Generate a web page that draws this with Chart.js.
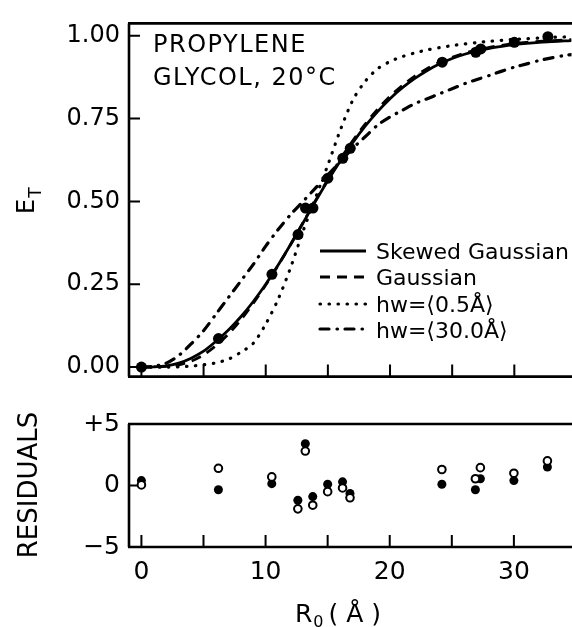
<!DOCTYPE html>
<html><head><meta charset="utf-8">
<script src="https://cdn.jsdelivr.net/npm/chart.js@4/dist/chart.umd.min.js"></script>
<style>
html,body{margin:0;padding:0;background:#fff;overflow:hidden}
#wrap{position:relative;width:572px;height:627px;background:#fff;overflow:hidden}
#c1{position:absolute;left:0;top:0}
#c2{position:absolute;left:0;top:400px}
</style></head><body>
<div id="wrap"><canvas id="c1" width="577" height="400"></canvas><canvas id="c2" width="577" height="227"></canvas></div>
<script>
// ---- data ----
const r0Data = [0, 6.2, 10.5, 12.6, 13.2, 13.8, 15.0, 16.2, 16.8, 24.2, 26.9, 27.3, 30.0, 32.7];
const etData = [0.00, 0.086, 0.28, 0.40, 0.48, 0.48, 0.57, 0.63, 0.66, 0.92, 0.95, 0.96, 0.98, 0.997];
const residFilled = [0.4, -0.35, 0.15, -1.2, 3.4, -0.9, 0.1, 0.3, -0.65, 0.1, -0.35, 0.55, 0.4, 1.5];
const residOpen = [0.05, 1.4, 0.7, -1.9, 2.8, -1.6, -0.5, -0.2, -1.0, 1.3, 0.55, 1.45, 1.0, 2.0];

const curveR = [0,1,2,3,4,5,6,7,8,9,10,11,12,13,14,15,16,17,18,19,20,21,22,23,24,25,26,27,28,29,30,31,32,33,34,34.6];
const skewedGaussian = [0.000,0.001,0.004,0.012,0.027,0.048,0.078,0.112,0.152,0.198,0.250,0.308,0.370,0.435,0.500,0.563,0.622,0.677,0.727,0.771,0.810,0.843,0.871,0.895,0.915,0.931,0.944,0.954,0.962,0.968,0.973,0.977,0.980,0.982,0.984,0.985];
const gaussian = [0.000,0.000,0.002,0.007,0.018,0.037,0.065,0.100,0.143,0.193,0.248,0.307,0.370,0.436,0.502,0.566,0.627,0.683,0.733,0.778,0.817,0.850,0.878,0.901,0.920,0.935,0.947,0.957,0.965,0.971,0.976,0.980,0.983,0.985,0.987,0.988];
const hw05 = [0.000,0.000,0.000,0.001,0.003,0.007,0.013,0.024,0.045,0.072,0.130,0.205,0.300,0.410,0.510,0.610,0.715,0.805,0.862,0.900,0.922,0.937,0.948,0.957,0.964,0.970,0.975,0.979,0.983,0.986,0.989,0.991,0.993,0.995,0.996,0.997];
const hw30 = [0.000,0.003,0.012,0.035,0.070,0.110,0.160,0.210,0.260,0.310,0.365,0.415,0.460,0.500,0.540,0.580,0.620,0.660,0.695,0.730,0.755,0.775,0.795,0.810,0.825,0.840,0.855,0.868,0.880,0.893,0.905,0.915,0.925,0.933,0.940,0.943];

const etTicks = [0, 0.25, 0.5, 0.75, 1.0];
const residTicks = [-5, 0, 5];
const xTicks = [0, 5, 10, 15, 20, 25, 30];
const xLabelTicks = [0, 10, 20, 30];
const legendLabels = ['Skewed Gaussian', 'Gaussian', 'hw=\u27E80.5\u00C5\u27E9', 'hw=\u27E830.0\u00C5\u27E9'];

// ---- styles ----
const FONT = 'DejaVu Sans';
const styles = [
  {dash: [], cap: 'butt', width: 2.8},
  {dash: [10, 7], cap: 'butt', width: 2.8},
  {dash: [0.5, 8.5], cap: 'round', width: 3.2},
  {dash: [9, 8, 0.5, 7.5], cap: 'round', width: 3.2}
];
const pts = (xs, ys) => xs.map((x, i) => ({x, y: ys[i]}));
const curves = [skewedGaussian, gaussian, hw05, hw30];

function frame(ctx, a, drawTop) {
  ctx.save();
  ctx.strokeStyle = '#000';
  ctx.lineWidth = 2.6;
  ctx.beginPath();
  ctx.moveTo(a.left, a.top); ctx.lineTo(a.left, a.bottom);
  ctx.moveTo(a.left - 1, a.bottom); ctx.lineTo(a.right + 10, a.bottom);
  if (drawTop) { ctx.moveTo(a.left - 1, a.top); ctx.lineTo(a.right + 10, a.top); }
  ctx.stroke();
  ctx.restore();
}
function xTickMarks(chart) {
  const ctx = chart.ctx, a = chart.chartArea, sx = chart.scales.x;
  ctx.save(); ctx.strokeStyle = '#000'; ctx.lineWidth = 2;
  ctx.beginPath();
  xTicks.forEach(v => { const p = sx.getPixelForValue(v); ctx.moveTo(p, a.bottom); ctx.lineTo(p, a.bottom - 12); });
  ctx.stroke(); ctx.restore();
}
function yTickMarks(chart, vals) {
  const ctx = chart.ctx, a = chart.chartArea, sy = chart.scales.y;
  ctx.save(); ctx.strokeStyle = '#000'; ctx.lineWidth = 2;
  ctx.beginPath();
  vals.forEach(v => { const p = sy.getPixelForValue(v); ctx.moveTo(a.left, p); ctx.lineTo(a.left + 11, p); });
  ctx.stroke(); ctx.restore();
}

const topPlugin = {
  id: 'topDeco',
  beforeDatasetsDraw(chart) {
    frame(chart.ctx, chart.chartArea, true);
    xTickMarks(chart);
    yTickMarks(chart, etTicks);
  },
  afterDraw(chart) {
    const ctx = chart.ctx;
    ctx.save();
    ctx.fillStyle = '#000';
    ctx.textAlign = 'left'; ctx.textBaseline = 'alphabetic';
    ctx.font = '24px "' + FONT + '"';
    ctx.letterSpacing = '1.5px';
    ctx.fillText('PROPYLENE', 153, 52);
    ctx.fillText('GLYCOL, 20\u00B0C', 153, 85);
    ctx.letterSpacing = '0px';
    // legend
    const lineY = [251, 277, 304, 329];
    const textY = [259, 285, 312, 338];
    ctx.font = '22px "' + FONT + '"';
    legendLabels.forEach((lab, i) => {
      const s = styles[i];
      ctx.save();
      ctx.strokeStyle = '#000'; ctx.lineWidth = s.width; ctx.lineCap = s.cap;
      ctx.setLineDash(s.dash);
      ctx.beginPath(); ctx.moveTo(320, lineY[i]); ctx.lineTo(366, lineY[i]); ctx.stroke();
      ctx.restore();
      ctx.fillText(lab, 376, textY[i]);
    });
    // E_T axis title
    ctx.save();
    ctx.translate(34, 214);
    ctx.rotate(-Math.PI / 2);
    ctx.font = '24px "' + FONT + '"';
    ctx.fillText('E', 0, 0);
    const w = ctx.measureText('E').width;
    ctx.font = '17px "' + FONT + '"';
    ctx.fillText('T', w + 1, 7);
    ctx.restore();
    ctx.restore();
  }
};

const botPlugin = {
  id: 'botDeco',
  beforeDatasetsDraw(chart) {
    frame(chart.ctx, chart.chartArea, true);
    xTickMarks(chart);
    yTickMarks(chart, [0]);
  },
  afterDraw(chart) {
    const ctx = chart.ctx;
    ctx.save();
    ctx.fillStyle = '#000';
    ctx.textBaseline = 'alphabetic';
    // RESIDUALS
    ctx.save();
    ctx.translate(37, 85);
    ctx.rotate(-Math.PI / 2);
    ctx.textAlign = 'center';
    ctx.font = '26px "' + FONT + '"';
    ctx.fillText('RESIDUALS', 0, 0);
    ctx.restore();
    // R0 (Å)
    ctx.textAlign = 'left';
    ctx.font = '25px "' + FONT + '"';
    let x = 295;
    ctx.fillText('R', x, 222);
    x += ctx.measureText('R').width;
    ctx.font = '16px "' + FONT + '"';
    ctx.fillText('0', x + 1, 227);
    x += ctx.measureText('0').width + 6;
    ctx.font = '25px "' + FONT + '"';
    ctx.fillText('( \u00C5 )', x, 222);
    ctx.restore();
  }
};

const lineDatasets = curves.map((c, i) => ({
  data: pts(curveR, c), showLine: true, pointRadius: 0, borderColor: '#000',
  borderWidth: styles[i].width, borderDash: styles[i].dash, borderCapStyle: styles[i].cap,
  tension: 0.3, fill: false, order: 2
}));

new Chart(document.getElementById('c1'), {
  type: 'scatter',
  data: { datasets: [
    ...lineDatasets,
    { data: pts(r0Data, etData), pointRadius: 5.5, pointBackgroundColor: '#000', pointBorderWidth: 0, showLine: false, order: 1 }
  ]},
  options: {
    responsive: false, animation: false, devicePixelRatio: 1,
    layout: { padding: { top: 14, bottom: 13, left: 0, right: 0 } },
    plugins: { legend: { display: false }, tooltip: { enabled: false } },
    scales: {
      x: { type: 'linear', min: -1, max: 34.6,
        ticks: { display: false }, grid: { display: false, drawTicks: false }, border: { display: false },
        afterFit: s => { s.height = 0; } },
      y: { type: 'linear', min: -0.0286, max: 1.037,
        afterBuildTicks: s => { s.ticks = etTicks.map(v => ({ value: v })); },
        ticks: { callback: v => Number(v).toFixed(2), color: '#000', padding: 9, font: { family: FONT, size: 24 } },
        grid: { display: false, drawTicks: false }, border: { display: false },
        afterFit: s => { s.width = 129; } }
    }
  },
  plugins: [topPlugin]
});

new Chart(document.getElementById('c2'), {
  type: 'scatter',
  data: { datasets: [
    { data: pts(r0Data, residFilled), pointRadius: 4.5, pointBackgroundColor: '#000', pointBorderColor: '#000', pointBorderWidth: 0, order: 2 },
    { data: pts(r0Data, residOpen), pointRadius: 3.8, pointBackgroundColor: '#fff', pointBorderColor: '#000', pointBorderWidth: 2, order: 1 }
  ]},
  options: {
    responsive: false, animation: false, devicePixelRatio: 1,
    layout: { padding: { top: 22, bottom: 0, left: 0, right: 0 } },
    plugins: { legend: { display: false }, tooltip: { enabled: false } },
    scales: {
      x: { type: 'linear', min: -1, max: 34.6,
        afterBuildTicks: s => { s.ticks = xTicks.map(v => ({ value: v })); },
        ticks: { callback: v => (xLabelTicks.includes(v) ? String(v) : ''), color: '#000', padding: 10, maxRotation: 0, autoSkip: false, font: { family: FONT, size: 25 } },
        grid: { display: false, drawTicks: false }, border: { display: false },
        afterFit: s => { s.height = 80; } },
      y: { type: 'linear', min: -5, max: 5,
        afterBuildTicks: s => { s.ticks = residTicks.map(v => ({ value: v })); },
        ticks: { callback: v => (v > 0 ? '+' + v : v < 0 ? '\u2212' + Math.abs(v) : '0'), color: '#000', padding: 9, font: { family: FONT, size: 25 } },
        grid: { display: false, drawTicks: false }, border: { display: false },
        afterFit: s => { s.width = 129; } }
    }
  },
  plugins: [botPlugin]
});
</script>
</body></html>
